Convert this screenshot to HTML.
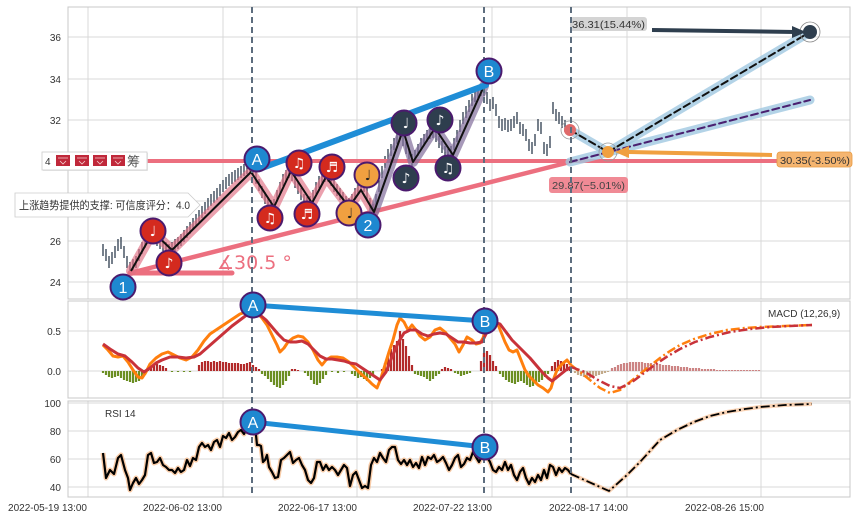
<!DOCTYPE html>
<html><head><meta charset="utf-8"><style>
html,body{margin:0;padding:0;background:#fff;}
svg{display:block;font-family:"Liberation Sans","Noto Sans CJK SC",sans-serif;}
.t{font-size:10px;fill:#333;}
</style></head><body>
<svg width="857" height="520" viewBox="0 0 857 520" xmlns="http://www.w3.org/2000/svg">
<rect width="857" height="520" fill="#fff"/>
<!-- gridlines -->
<g stroke="#d9d9d9" stroke-width="1" fill="none">
<path d="M68 37H850M68 79H850M68 120H850M68 161H850M68 201H850M68 241H850M68 282H850"/>
<path d="M88 7V299M223 7V299M357 7V299M492 7V299M627 7V299M761 7V299"/>
<path d="M68 331H850M68 371H850"/>
<path d="M88 301V398M223 301V398M357 301V398M492 301V398M627 301V398M761 301V398"/>
<path d="M68 403H850M68 431H850M68 459H850M68 487H850"/>
<path d="M88 401V497M223 401V497M357 401V497M492 401V497M627 401V497M761 401V497"/>
</g>
<g stroke="#c8c8c8" stroke-width="1" fill="none">
<rect x="68" y="7" width="782" height="292"/>
<rect x="68" y="301" width="782" height="97"/>
<rect x="68" y="401" width="782" height="96"/>
</g>
<!-- tick labels -->
<g class="t" text-anchor="end">
<text x="61" y="41">36</text><text x="61" y="83">34</text><text x="61" y="124">32</text><text x="61" y="205">28</text><text x="61" y="245">26</text><text x="61" y="286">24</text>
<text x="61" y="335">0.5</text><text x="61" y="375">0.0</text>
<text x="61" y="407">100</text><text x="61" y="435">80</text><text x="61" y="463">60</text><text x="61" y="491">40</text>
<text x="87" y="511">2022-05-19 13:00</text><text x="222" y="511">2022-06-02 13:00</text><text x="357" y="511">2022-06-17 13:00</text><text x="492" y="511">2022-07-22 13:00</text><text x="628" y="511">2022-08-17 14:00</text><text x="764" y="511">2022-08-26 15:00</text>
</g>
<!-- candles -->
<path fill="none" stroke="#3d4a5a" stroke-width="1.4" d="M103 244v12M106 249v12M109 256v12M112 252v12M115 246v12M118 239v12M121 237v12M124 246v12M127 256v12M130 262v12M133 259v12M136 256v12M139 249v12M142 242v12M145 236v12M148 230v12M151 226v12M154 230v12M157 234v12M160 237v12M163 239v12M166 242v12M169 244v12M172 242v12M175 239v12M178 237v12M181 234v12M184 230v12M187 226v12M190 222v12M193 218v12M196 214v12M199 210v12M202 206v12M205 202v12M208 198v12M211 194v12M214 191v12M217 188v12M220 184v12M223 180v12M226 177v12M229 174v12M232 172v12M235 170v12M238 168v12M241 166v12M244 164v12M247 162v12M250 160v12M253 162v12M256 172v12M259 179v12M262 186v12M265 192v12M268 197v12M271 200v12M274 199v12M277 190v12M280 182v12M283 174v12M286 170v12M289 166v12M292 169v12M295 176v12M298 182v12M301 188v12M304 194v12M307 197v12M310 196v12M313 190v12M316 182v12M319 176v12M322 172v12M325 170v12M328 170v12M331 174v12M334 180v12M337 184v12M340 188v12M343 192v12M346 196v12M349 198v12M352 194v12M355 188v12M358 182v12M361 178v12M364 180v12M367 188v12M370 198v12M373 204v12M376 194v12M379 180v12M382 166v12M385 156v12M388 149v12M391 144v12M394 138v12M397 132v12M400 128v12M403 134v12M406 142v12M409 150v12M412 154v12M415 150v12M418 144v12M421 138v12M424 134v12M427 130v12M430 127v12M433 126v12M436 130v12M439 136v12M442 141v12M445 146v12M448 149v12M451 146v12M454 138v12M457 130v12M460 120v12M463 112v12M466 106v12M469 100v12M472 94v12M475 90v12M478 86v12M481 84v12M484 84v12M487 92v12M490 99v12M493 97v12M496 104v12M499 116v12M502 119v12M505 118v12M508 120v12M511 119v12M514 116v12M517 112v12M520 122v12M523 124v12M526 129v12M529 139v12M532 142v12M535 134v12M538 119v12M541 122v12M544 142v12M547 144v12M550 136v12M553 102v12M556 109v12M559 112v12M562 116v12M565 120v12"/>
<!-- pink lines -->
<g stroke="#ec6f7f" fill="none" stroke-linecap="round">
<path d="M147 161H850" stroke-width="4"/>
<path d="M130 273L570 162" stroke-width="4.5"/>
<path d="M130 273H232" stroke-width="5"/>
</g>
<text x="217" y="269" font-size="19" fill="#ec6f7f" font-family="DejaVu Sans,sans-serif">∡30.5 °</text>
<!-- zigzag bands -->
<polyline fill="none" stroke="rgba(225,110,130,0.65)" stroke-width="10" stroke-linejoin="round" stroke-linecap="round" points="131,271 153,232 172,250 251,172 274,207 291,171 312,203 326,177 349,207 361,190 374,212"/>
<polyline fill="none" stroke="rgba(130,110,155,0.7)" stroke-width="10" stroke-linejoin="round" stroke-linecap="round" points="374,212 403,130 413,162 435,128 453,155 484,86"/>
<polyline fill="none" stroke="#111" stroke-width="2" stroke-linejoin="round" points="131,271 153,232 172,250 251,172 274,207 291,171 312,203 326,177 349,207 361,190 374,212 403,130 413,162 435,128 453,155 484,86"/>
<!-- forecast -->
<g fill="none" stroke-linecap="round">
<path d="M570 130L608 152L810 32" stroke="rgba(160,200,225,0.8)" stroke-width="9"/>
<path d="M570 162L810 100" stroke="rgba(160,200,225,0.8)" stroke-width="9"/>
<path d="M570 130L608 152L810 32" stroke="#111" stroke-width="2" stroke-dasharray="7,4"/>
<path d="M570 162L810 100" stroke="#4a2070" stroke-width="2" stroke-dasharray="7,4"/>
</g>
<circle cx="570" cy="130" r="9" fill="none" stroke="#999" stroke-width="0.8"/>
<circle cx="570" cy="130" r="6" fill="#e06a6a"/>
<circle cx="608" cy="152" r="9" fill="none" stroke="#999" stroke-width="0.8"/>
<circle cx="608" cy="152" r="6" fill="#f0a040"/>
<circle cx="810" cy="32" r="10" fill="none" stroke="#888" stroke-width="0.8"/>
<circle cx="810" cy="32" r="7" fill="#2e3e4e"/>
<path d="M652 30L795 32" stroke="#2e3e4e" stroke-width="4"/>
<path d="M806 32L792 26L792 38Z" fill="#2e3e4e"/>
<path d="M772 155L628 152" stroke="#f0a040" stroke-width="4"/>
<path d="M615 152L629 146L629 158Z" fill="#f0a040"/>
<rect x="570" y="17" width="77" height="14" rx="3" fill="#d4d4d4"/>
<text x="572" y="28" font-size="10.5" fill="#333" textLength="73" lengthAdjust="spacingAndGlyphs">36.31(15.44%)</text>
<rect x="777" y="152" width="75" height="15" rx="3" fill="#f5b570" stroke="#e89a40" stroke-width="0.8"/>
<text x="780" y="164" font-size="10.5" fill="#333" textLength="70" lengthAdjust="spacingAndGlyphs">30.35(-3.50%)</text>
<rect x="549" y="177" width="79" height="16" rx="3" fill="#f08a95"/>
<text x="552" y="189" font-size="10.5" fill="#444" textLength="73" lengthAdjust="spacingAndGlyphs">29.87(−5.01%)</text>
<!-- left label boxes -->
<rect x="43" y="153" width="105" height="18" fill="#ddd" opacity="0.6"/>
<rect x="42" y="152" width="105" height="18" fill="#fff" stroke="#ccc" stroke-width="0.8"/>
<text x="45" y="165" font-size="10" fill="#333">4</text>
<g fill="#c0283a"><rect x="56" y="155" width="14" height="11"/><rect x="75" y="155" width="14" height="11"/><rect x="93" y="155" width="14" height="11"/><rect x="111" y="155" width="14" height="11"/></g>
<g stroke="#f5d0d0" stroke-width="0.8" fill="none"><path d="M58 158h10M77 158h10M95 158h10M113 158h10M60 161l3 3l3-3M79 161l3 3l3-3M97 161l3 3l3-3M115 161l3 3l3-3"/></g>
<text x="127" y="166" font-size="13" fill="#555">筹</text>
<path d="M15 193H188L200 205L188 217H15Z" fill="#fff" stroke="#ccc" stroke-width="0.8"/>
<text x="19" y="209" font-size="11" fill="#333" textLength="171" lengthAdjust="spacingAndGlyphs">上涨趋势提供的支撑: 可信度评分：4.0</text>
<!-- MACD histogram -->
<path fill="none" stroke="#6b8e23" stroke-width="2.2" d="M103 371v2M106 371v4M109 371v6M112 371v7M115 371v6M118 371v5M121 371v7M124 371v9M127 371v10M130 371v11M133 371v12M136 371v11M139 371v10M142 371v7M145 371v4M172 371v1M178 371v1M184 371v1M190 371v1M262 371v3M265 371v5M268 371v8M271 371v11M274 371v14M277 371v16M280 371v17M283 371v14M286 371v10M289 371v5M305 371v2M308 371v5M311 371v9M314 371v13M317 371v14M320 371v12M323 371v8M326 371v4M332 371v1M338 371v2M344 371v1M352 371v3M355 371v5M358 371v7M361 371v6M364 371v8M367 371v10M370 371v7M373 371v4M415 371v3M418 371v4M421 371v5M424 371v6M427 371v8M430 371v10M433 371v8M436 371v5M439 371v3M455 371v2M458 371v3M461 371v5M464 371v4M467 371v3M470 371v2M500 371v3M503 371v6M506 371v9M509 371v11M512 371v12M515 371v13M518 371v11M521 371v10M524 371v12M527 371v14M530 371v16M533 371v15M536 371v13M539 371v11M542 371v9M545 371v6M548 371v3"/>
<path fill="none" stroke="#b22a2a" stroke-width="2.2" d="M148 371v-2M151 371v-4M154 371v-6M157 371v-7M160 371v-6M163 371v-5M166 371v-3M199 371v-6M202 371v-9M205 371v-10M208 371v-10M211 371v-9M214 371v-10M217 371v-9M220 371v-10M223 371v-9M226 371v-9M229 371v-8M232 371v-8M235 371v-8M238 371v-8M241 371v-7M244 371v-7M247 371v-8M250 371v-9M253 371v-6M256 371v-4M259 371v-2M292 371v-2M295 371v-2M298 371v-1M382 371v-2M385 371v-8M388 371v-15M391 371v-22M394 371v-26M397 371v-30M400 371v-40M403 371v-32M406 371v-25M409 371v-15M412 371v-6M442 371v-2M445 371v-4M448 371v-3M451 371v-2M481 371v-10M484 371v-18M487 371v-20M490 371v-16M493 371v-10M496 371v-5M552 371v-5M555 371v-9M558 371v-11M561 371v-10M564 371v-9M567 371v-7M570 371v-4"/>
<path fill="none" stroke="#c2aa8a" stroke-width="2.2" d="M575 371v2M578 371v4M581 371v5M584 371v6M587 371v7M590 371v7M593 371v6M596 371v5M599 371v4M602 371v3M605 371v2M608 371v1"/>
<path fill="none" stroke="#cc8484" stroke-width="2.2" d="M612 371v-3M615 371v-4M618 371v-6M621 371v-7M624 371v-8M627 371v-8M630 371v-9M633 371v-9M636 371v-9M639 371v-9M642 371v-9M645 371v-8M648 371v-8M651 371v-8M654 371v-7M657 371v-7M660 371v-7M663 371v-6M666 371v-6M669 371v-6M672 371v-5M675 371v-5M678 371v-5M681 371v-4M684 371v-4M687 371v-4M690 371v-3M693 371v-3M696 371v-3M699 371v-3M702 371v-2M705 371v-2M708 371v-2M711 371v-2M714 371v-2M717 371v-1M720 371v-1M723 371v-1M726 371v-1M729 371v-1M732 371v-1M735 371v-1M738 371v-1M741 371v-1M744 371v-1M747 371v-1M750 371v-1M753 371v-1M756 371v-1M759 371v-1"/>
<!-- MACD lines -->
<polyline fill="none" stroke="#ff7f0e" stroke-width="3" stroke-linejoin="round" points="103,345 108,350 113,356 118,357 123,356 128,362 133,370 138,377 142,378 146,372 150,364 156,358 162,354 168,352 174,355 180,358 186,360 192,357 198,350 204,341 210,334 216,330 222,326 228,322 234,318 240,314 246,312 250,314 254,316 258,314 262,318 267,325 272,335 277,345 280,352 284,348 288,342 293,338 298,336 303,337 308,342 313,350 318,360 322,365 326,360 331,357 337,357 343,358 349,362 355,368 360,373 366,378 372,384 377,388 381,378 385,365 389,352 393,340 397,325 400,318 404,322 408,330 412,325 416,330 420,336 425,340 430,337 435,330 440,328 445,332 450,338 455,344 459,352 463,345 467,337 472,340 476,344 480,343 483,338 486,328 490,320 494,318 497,322 501,332 505,342 509,350 513,352 517,350 521,360 525,370 529,376 533,380 538,385 543,388 548,392 551,388 554,378 557,370 562,364 567,360 571,365"/>
<polyline fill="none" stroke="#c8323a" stroke-width="3" stroke-linejoin="round" points="103,344 110,349 118,354 125,356 132,362 138,368 144,372 150,368 156,363 162,360 170,357 178,357 186,358 194,357 200,354 208,347 216,340 224,333 232,326 240,320 248,314 254,312 260,315 266,320 272,327 278,334 284,340 290,342 296,342 302,341 308,344 314,350 320,356 326,359 332,359 338,360 344,361 350,363 356,364 362,368 368,372 374,376 380,380 386,372 392,357 398,343 404,333 410,330 416,330 422,334 428,336 434,334 440,333 446,334 452,338 458,342 464,342 470,343 476,343 482,342 488,330 494,322 500,324 506,332 512,340 518,346 524,352 530,358 536,365 542,372 548,378 552,381 556,378 561,374 566,370 571,367"/>
<polyline fill="none" stroke="#ff7f0e" stroke-width="2.5" stroke-dasharray="9,3,2,3" points="571,365 580,372 590,380 600,388 610,393 620,390 630,382 640,374 650,366 660,358 670,351 680,345 694,339 710,334 727,330 745,328 760,327 785,326 812,325"/>
<polyline fill="none" stroke="#c8323a" stroke-width="2.5" stroke-dasharray="9,3,2,3" points="571,367 585,372 598,380 610,386 620,388 632,382 644,373 656,364 668,356 680,349 695,342 710,337 730,332 750,329 770,327 790,326 812,325"/>
<text x="768" y="317" font-size="10" fill="#333">MACD (12,26,9)</text>
<!-- RSI -->
<polyline fill="none" stroke="rgba(245,170,110,0.6)" stroke-width="5" stroke-linejoin="round" points="103,453 106,478 110,470 114,474 118,458 121,455 125,470 128,478 130,490 133,483 136,478 139,484 142,480 145,475 148,455 151,453 154,463 157,462 160,458 163,465 166,467 169,470 172,470 175,473 178,468 181,472 184,470 187,460 190,466 193,458 196,460 199,447 202,443 205,447 208,445 211,450 214,442 217,440 220,447 223,436 226,438 229,433 232,440 235,437 238,432 241,430 244,434 247,428 250,432 253,427 255,425 257,445 259,445 261,446 263,462 265,460 267,455 269,467 272,472 275,478 278,477 281,460 284,458 287,455 290,452 293,463 296,460 299,458 302,465 305,470 308,480 311,483 314,478 317,462 320,462 323,470 326,465 329,470 332,467 335,470 338,475 341,470 344,465 347,468 350,486 353,475 356,472 359,480 362,488 365,486 368,488 371,465 374,458 377,462 380,453 383,458 386,462 389,450 392,447 395,447 398,460 401,464 404,460 407,465 410,460 413,467 416,463 419,468 422,457 425,465 428,457 431,459 434,455 437,462 440,460 443,457 446,463 449,470 452,465 455,458 458,455 461,467 464,464 467,458 470,460 473,452 476,457 479,462 482,456 485,452 487,457 490,462 493,470 496,472 499,467 502,470 505,462 508,470 511,465 514,475 517,480 520,472 523,468 526,478 529,484 532,478 535,482 538,475 541,480 544,470 547,478 550,465 553,467 556,475 559,468 562,472 565,468 568,470 571,474"/>
<polyline fill="none" stroke="#000" stroke-width="2.2" stroke-linejoin="round" points="103,453 106,478 110,470 114,474 118,458 121,455 125,470 128,478 130,490 133,483 136,478 139,484 142,480 145,475 148,455 151,453 154,463 157,462 160,458 163,465 166,467 169,470 172,470 175,473 178,468 181,472 184,470 187,460 190,466 193,458 196,460 199,447 202,443 205,447 208,445 211,450 214,442 217,440 220,447 223,436 226,438 229,433 232,440 235,437 238,432 241,430 244,434 247,428 250,432 253,427 255,425 257,445 259,445 261,446 263,462 265,460 267,455 269,467 272,472 275,478 278,477 281,460 284,458 287,455 290,452 293,463 296,460 299,458 302,465 305,470 308,480 311,483 314,478 317,462 320,462 323,470 326,465 329,470 332,467 335,470 338,475 341,470 344,465 347,468 350,486 353,475 356,472 359,480 362,488 365,486 368,488 371,465 374,458 377,462 380,453 383,458 386,462 389,450 392,447 395,447 398,460 401,464 404,460 407,465 410,460 413,467 416,463 419,468 422,457 425,465 428,457 431,459 434,455 437,462 440,460 443,457 446,463 449,470 452,465 455,458 458,455 461,467 464,464 467,458 470,460 473,452 476,457 479,462 482,456 485,452 487,457 490,462 493,470 496,472 499,467 502,470 505,462 508,470 511,465 514,475 517,480 520,472 523,468 526,478 529,484 532,478 535,482 538,475 541,480 544,470 547,478 550,465 553,467 556,475 559,468 562,472 565,468 568,470 571,474"/>
<polyline fill="none" stroke="rgba(245,170,110,0.5)" stroke-width="4" points="571,474 609,491 627,475 640,462 660,440 677,430 694,422 710,416 727,412 745,409 760,407 785,405 812,404"/>
<polyline fill="none" stroke="#000" stroke-width="1.8" stroke-dasharray="9,3,2,3" points="571,474 609,491 627,475 640,462 660,440 677,430 694,422 710,416 727,412 745,409 760,407 785,405 812,404"/>
<text x="105" y="417" font-size="10" fill="#333">RSI 14</text>
<!-- vertical dashed markers -->
<g stroke="#5d6d7e" stroke-width="2" stroke-dasharray="6,4">
<path d="M252 7V497M484 7V497M571 7V497"/>
</g>
<!-- blue A-B -->
<path d="M262 168L486 85" stroke="#1f8dd6" stroke-width="6" stroke-linecap="round"/>
<path d="M253 305L485 321" stroke="#1f8dd6" stroke-width="5" stroke-linecap="round"/>
<path d="M253 422L485 447" stroke="#1f8dd6" stroke-width="5" stroke-linecap="round"/>
<!-- circles -->
<g stroke="#4b1a6e" stroke-width="2">
<circle cx="123" cy="287" r="12.5" fill="#1e88d0"/>
<circle cx="153" cy="231" r="12.5" fill="#d42a1e"/>
<circle cx="169" cy="263" r="12.5" fill="#d42a1e"/>
<circle cx="257" cy="159" r="12.5" fill="#1e88d0"/>
<circle cx="270" cy="218" r="12.5" fill="#d42a1e"/>
<circle cx="299" cy="163" r="12.5" fill="#d42a1e"/>
<circle cx="307" cy="214" r="12.5" fill="#d42a1e"/>
<circle cx="332" cy="167" r="12.5" fill="#d42a1e"/>
<circle cx="349" cy="213" r="12.5" fill="#f0a040"/>
<circle cx="367" cy="175" r="12.5" fill="#f0a040"/>
<circle cx="368" cy="225" r="12.5" fill="#1e88d0"/>
<circle cx="404" cy="123" r="12.5" fill="#2e3e4e"/>
<circle cx="406" cy="178" r="12.5" fill="#2e3e4e"/>
<circle cx="440" cy="120" r="12.5" fill="#2e3e4e"/>
<circle cx="448" cy="168" r="12.5" fill="#2e3e4e"/>
<circle cx="489" cy="71" r="12.5" fill="#1e88d0"/>
<circle cx="253" cy="305" r="12.5" fill="#1e88d0"/>
<circle cx="485" cy="321" r="12.5" fill="#1e88d0"/>
<circle cx="253" cy="422" r="12.5" fill="#1e88d0"/>
<circle cx="485" cy="447" r="12.5" fill="#1e88d0"/>
</g>
<g fill="#fff" text-anchor="middle" font-size="16">
<text x="123" y="293">1</text><text x="257" y="165">A</text><text x="368" y="231">2</text><text x="489" y="77">B</text>
<text x="253" y="311">A</text><text x="485" y="327">B</text><text x="253" y="428">A</text><text x="485" y="453">B</text>
</g>
<g fill="#fff" text-anchor="middle" font-size="14" font-family="DejaVu Sans,sans-serif">
<text x="153" y="236">♩</text><text x="169" y="268">♪</text><text x="270" y="223">♫</text><text x="299" y="168">♫</text><text x="307" y="219">♬</text><text x="332" y="172">♬</text>
<text x="406" y="128">♩</text><text x="406" y="183">♪</text><text x="440" y="125">♪</text><text x="448" y="173">♫</text>
</g>
<g fill="#222" text-anchor="middle" font-size="14" font-family="DejaVu Sans,sans-serif">
<text x="350" y="218">♩</text><text x="368" y="180">♩</text>
</g>
</svg>
</body></html>
